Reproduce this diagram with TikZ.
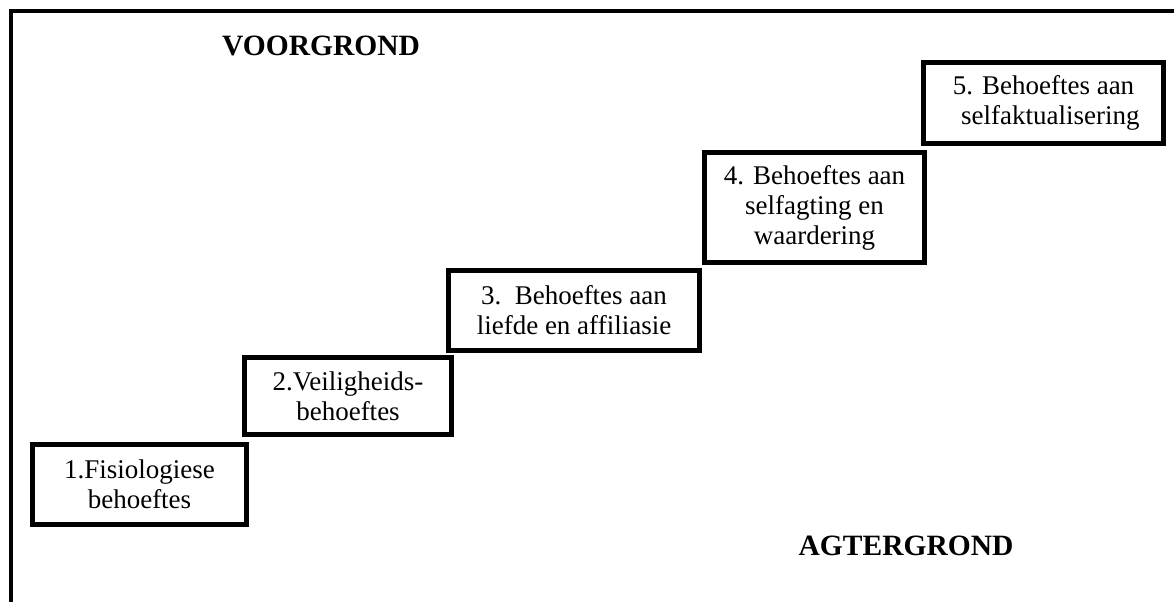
\documentclass[tikz,border=0pt]{standalone}
\usepackage{fontspec}
\setmainfont{Liberation Serif}

\begin{document}
\begin{tikzpicture}[x=1pt,y=-1pt,
	stepbox/.style={draw,line width=4.8pt,align=center,inner sep=0pt,font=\fontsize{27}{30}\selectfont},
	ground/.style={font=\fontsize{29.5}{32}\selectfont\bfseries}]
	\useasboundingbox (0,0) rectangle (1174,602);
	\draw[line width=4pt] (11,602) -- (11,11) -- (1174,11);
	
	\node[stepbox,minimum width=214pt,minimum height=80pt] (fisio) at (139.5,484.5) {1.Fisiologiese\\behoeftes};
	\node[stepbox,minimum width=207pt,minimum height=77pt] (veilig) at (348,396) {2.Veiligheids-\\behoeftes};
	\node[stepbox,minimum width=251pt,minimum height=80pt] (liefde) at (574,310.5) {3.\ \ Behoeftes aan\\liefde en affiliasie};
	\node[stepbox,minimum width=220pt,minimum height=110pt] (agting) at (814.5,207.5) {4. Behoeftes aan\\selfagting en\\waardering};
	\node[stepbox,minimum width=240pt,minimum height=81pt] (aktual) at (1043.5,103) {5. Behoeftes aan\\\ \ selfaktualisering};
	
	\node[ground] (voor) at (321,46) {VOORGROND};
	\node[ground] (agter) at (906,546) {AGTERGROND};
\end{tikzpicture}
\end{document}
